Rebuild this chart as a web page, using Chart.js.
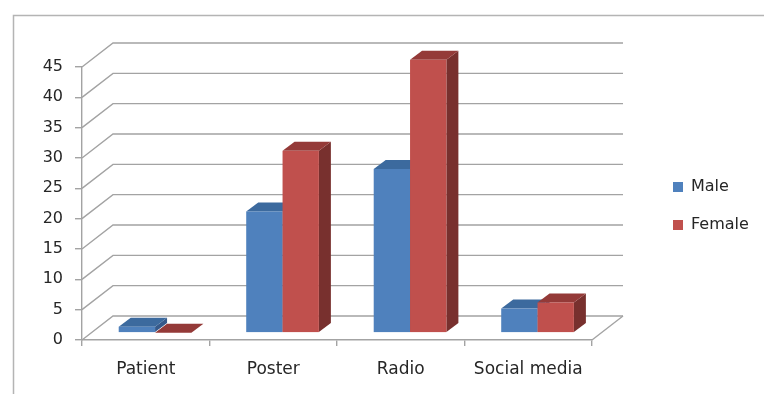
<!DOCTYPE html>
<html>
<head>
<meta charset="utf-8">
<script src="https://cdn.jsdelivr.net/npm/chart.js@4.4.1/dist/chart.umd.min.js"></script>
<style>
  html, body { margin: 0; padding: 0; background: #ffffff; }
  #wrap { width: 764px; height: 394px; position: relative; }
</style>
</head>
<body>
<div id="wrap"><canvas id="chart" width="764" height="394"></canvas></div>
<script>
// Source of awareness, by sex
const categories = ['Patient', 'Poster', 'Radio', 'Social media'];
const maleValues = [1, 20, 27, 4];
const femaleValues = [0, 30, 45, 5];
const seriesNames = ['Male', 'Female'];
const yTicks = [0, 5, 10, 15, 20, 25, 30, 35, 40, 45];

const FONT = '"DejaVu Sans", "Open Sans", sans-serif';
const GRID = '#a3a3a3';
const TEXT = '#262626';

// face colours: front, top, side
const palette = [
  { front: '#4f81bd', top: '#3c6a9e', side: '#35598a' },
  { front: '#c0504d', top: '#943a38', side: '#78302e' }
];

// oblique projection of the floor depth
const DEPTH = { x: 31, y: -24 };
const BAR_FRONT = 0.3;   // bars start this far back into the floor
const BAR_DEPTH = { x: 12, y: -9 };

const threeD = {
  id: 'threeD',
  beforeDraw(chart) {
    const ctx = chart.ctx;
    ctx.save();
    ctx.strokeStyle = '#b4b4b4';
    ctx.lineWidth = 1.5;
    ctx.beginPath();
    ctx.moveTo(13.5, 394);
    ctx.lineTo(13.5, 15.5);
    ctx.lineTo(764, 15.5);
    ctx.stroke();
    ctx.restore();
  },
  beforeDatasetsDraw(chart) {
    const ctx = chart.ctx;
    const xs = chart.scales.x, ys = chart.scales.y;
    const L = xs.left, R = xs.right, B = ys.bottom;
    ctx.save();
    ctx.strokeStyle = GRID;
    ctx.lineWidth = 1.4;
    // side wall diagonals and back wall lines
    yTicks.forEach(v => {
      const yp = ys.getPixelForValue(v);
      ctx.beginPath();
      ctx.moveTo(L, yp);
      ctx.lineTo(L + DEPTH.x, yp + DEPTH.y);
      ctx.lineTo(R + DEPTH.x, yp + DEPTH.y);
      ctx.stroke();
    });
    // floor right edge
    ctx.beginPath();
    ctx.moveTo(R, B);
    ctx.lineTo(R + DEPTH.x, B + DEPTH.y);
    ctx.stroke();

    // 3D columns
    const fx = DEPTH.x * BAR_FRONT, fy = DEPTH.y * BAR_FRONT;
    const dx = BAR_DEPTH.x, dy = BAR_DEPTH.y;
    for (let i = 0; i < categories.length; i++) {
      chart.data.datasets.forEach((ds, di) => {
        const meta = chart.getDatasetMeta(di);
        const el = meta.data[i];
        if (!el) return;
        const p = el.getProps(['x', 'y', 'base', 'width'], true);
        const l = p.x - p.width / 2 + fx;
        const r = p.x + p.width / 2 + fx;
        const t = Math.min(p.y, p.base) + fy;
        const b = Math.max(p.y, p.base) + fy;
        const c = palette[di];
        // side
        ctx.fillStyle = c.side;
        ctx.beginPath();
        ctx.moveTo(r, t); ctx.lineTo(r + dx, t + dy);
        ctx.lineTo(r + dx, b + dy); ctx.lineTo(r, b);
        ctx.closePath(); ctx.fill();
        // top
        ctx.fillStyle = c.top;
        ctx.beginPath();
        ctx.moveTo(l, t); ctx.lineTo(l + dx, t + dy);
        ctx.lineTo(r + dx, t + dy); ctx.lineTo(r, t);
        ctx.closePath(); ctx.fill();
        // front
        if (b - t > 0) {
          ctx.fillStyle = c.front;
          ctx.fillRect(l, t, r - l, b - t);
        }
      });
    }
    ctx.restore();
    return false;
  },
  afterDraw(chart) {
    const ctx = chart.ctx;
    ctx.save();
    ctx.font = '16px ' + FONT;
    ctx.textBaseline = 'middle';
    ctx.textAlign = 'left';
    const items = [{ y: 187 }, { y: 225 }];
    items.forEach((it, k) => {
      ctx.fillStyle = palette[k].front;
      ctx.fillRect(673, it.y - 5, 10, 10);
      ctx.fillStyle = TEXT;
      ctx.fillText(seriesNames[k], 691, it.y);
    });
    ctx.restore();
  }
};

new Chart(document.getElementById('chart'), {
  type: 'bar',
  data: {
    labels: categories,
    datasets: [
      { label: seriesNames[0], data: maleValues, backgroundColor: palette[0].front },
      { label: seriesNames[1], data: femaleValues, backgroundColor: palette[1].front }
    ]
  },
  options: {
    responsive: false,
    animation: false,
    events: [],
    categoryPercentage: 0.57,
    barPercentage: 1.0,
    layout: { padding: { left: 0, top: 67, right: 172, bottom: 0 } },
    plugins: { legend: { display: false }, tooltip: { enabled: false } },
    scales: {
      x: {
        offset: true,
        grid: { display: true, drawOnChartArea: false, offset: true, tickLength: 6, color: GRID, lineWidth: 1.4 },
        border: { display: true, color: GRID, width: 1.4 },
        ticks: { color: TEXT, font: { family: FONT, size: 17 }, padding: 13, maxRotation: 0 },
        afterFit(s) { s.height = 54; }
      },
      y: {
        min: 0, max: 45,
        afterBuildTicks(s) { s.ticks = yTicks.map(v => ({ value: v })); },
        grid: { display: true, drawOnChartArea: false, tickLength: 7, color: GRID, lineWidth: 1.4 },
        border: { display: true, color: GRID, width: 1.4 },
        ticks: { color: TEXT, font: { family: FONT, size: 16 }, padding: 12 },
        afterFit(s) { s.width = 82; }
      }
    }
  },
  plugins: [threeD]
});
</script>
</body>
</html>
